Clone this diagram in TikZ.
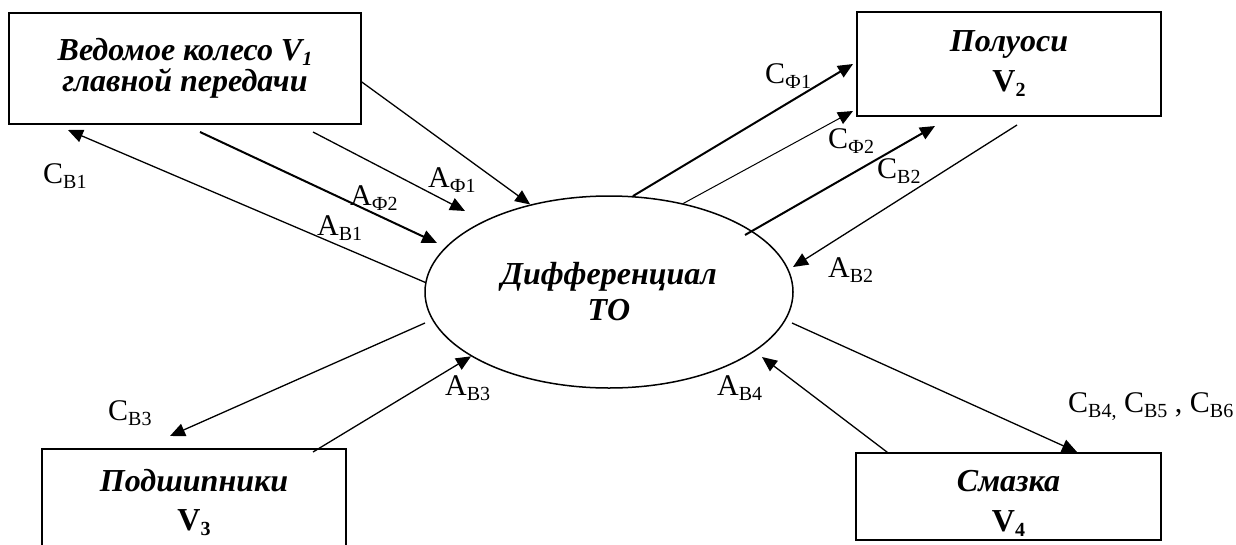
\documentclass[tikz,border=0pt]{standalone}
\usepackage{fontspec}
\setmainfont{Liberation Serif}
\usepackage{tikz}
\usetikzlibrary{arrows.meta,positioning,shapes.geometric}
\newcommand\sub[1]{\raisebox{-5pt}{\fontsize{20}{20}\selectfont #1}}
\begin{document}
\begin{tikzpicture}[
  x=1pt, y=-1pt,
  every node/.style={font=\fontsize{30}{36}\selectfont},
  blok/.style={draw, line width=1.6pt, inner sep=0pt, align=center},
  lbl/.style={anchor=base west, inner sep=0pt},
  svyaz/.style={->, >={Triangle[length=15pt,width=13pt]}, line width=1.3pt},
  tonk/.style={svyaz, line width=1pt},
  tolst/.style={svyaz, line width=2pt}
]
\useasboundingbox (0,0) rectangle (1236,544);
% bloki
\node[blok, minimum width=352pt, minimum height=111pt, font=\fontsize{32}{31}\selectfont\bfseries\itshape]
  (koleso) at (185,68.5) {Ведомое колесо V\sub{1}\\главной передачи};
\node[blok, minimum width=304pt, minimum height=104pt, font=\fontsize{32}{40}\selectfont\bfseries]
  (poluosi) at (1009,64) {\textit{Полуоси}\\V\sub{2}};
\node[blok, minimum width=304pt, minimum height=106pt, font=\fontsize{32}{39}\selectfont\bfseries]
  (podship) at (194,502) {\textit{Подшипники}\\V\sub{3}};
\node[blok, minimum width=305pt, minimum height=87pt,
  label={[font=\fontsize{32}{40}\selectfont\bfseries, align=center, yshift=-7pt]center:{\textit{Смазка}\\V\sub{4}}}]
  (smazka) at (1008.5,496.5) {};
\node[draw, ellipse, line width=1.5pt, minimum width=368pt, minimum height=192pt, align=center,
  font=\fontsize{32}{36}\selectfont\bfseries\itshape] (diff) at (609,292) {Дифференциал\\ТО};

% koncy strelok
\coordinate (af1s) at (313,132);
\coordinate (af1) at (465,211);
\coordinate (af2s) at (200,132);
\coordinate (af2) at (437,243);
\coordinate (cb1) at (68,130);
\coordinate (cf1) at (853,64);
\coordinate (cf2) at (853,111);
\coordinate (cb2s) at (745,235);
\coordinate (cb2) at (935,126);
\coordinate (ab2s) at (1017,125);
\coordinate (ab2) at (793,267);
\coordinate (cb3s) at (425,323);
\coordinate (cb3) at (170,436);
\coordinate (ab3s) at (313,452);
\coordinate (cb4s) at (792,323);
\coordinate (cb4) at (1077,452);
\coordinate (ab4) at (762,357);

% svyazi
\draw[svyaz] ([yshift=-13.5pt]koleso.east) -- (diff.132.6);
\draw[svyaz] (af1s) -- (af1);
\draw[tolst] (af2s) -- (af2);
\draw[svyaz] (diff.177.2) -- (cb1);
\draw[tolst] (diff.76.5) -- (cf1);
\draw[tonk] (diff.50.3) -- (cf2);
\draw[tolst] (cb2s) -- (cb2);
\draw[svyaz] (ab2s) -- (ab2);
\draw[svyaz] (cb3s) -- (cb3);
\draw[svyaz] (ab3s) -- (diff.205.1);
\draw[svyaz] (cb4s) -- (cb4);
\draw[svyaz] ([xshift=32pt]smazka.north west) -- (ab4);

% podpisi
\node[lbl] (lcb1) at (43,183) {С\sub{В1}};
\node[lbl] (lab1) at (317,235) {А\sub{В1}};
\node[lbl] (laf2) at (350,205) {А\sub{Ф2}};
\node[lbl] (laf1) at (428,187) {А\sub{Ф1}};
\node[lbl] (lcf1) at (765,83) {С\sub{Ф1}};
\node[lbl] (lcf2) at (828,148) {С\sub{Ф2}};
\node[lbl] (lcb2) at (877,178) {С\sub{В2}};
\node[lbl] (lab2) at (828,277) {А\sub{В2}};
\node[lbl] (lcb3) at (108,420) {С\sub{В3}};
\node[lbl] (lab3) at (445,395) {А\sub{В3}};
\node[lbl] (lab4) at (717,395) {А\sub{В4}};
\node[lbl] (lcb4) at (1068,412) {С\sub{В4,} С\sub{В5} , С\sub{В6}};
\end{tikzpicture}
\end{document}
